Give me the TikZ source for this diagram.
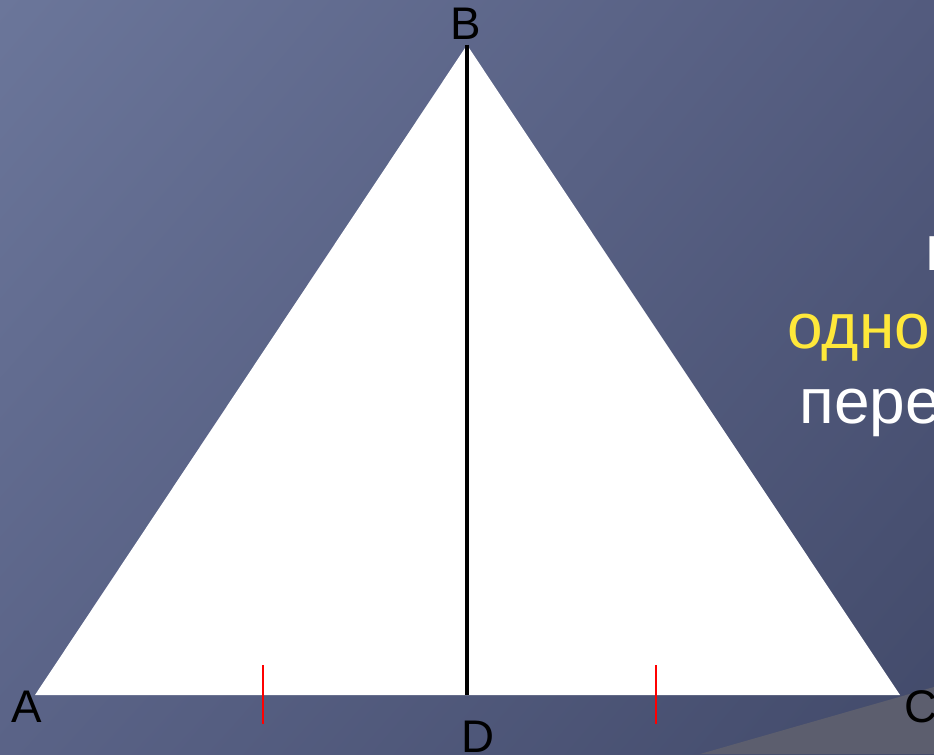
\documentclass[tikz,border=0pt]{standalone}
\usepackage{fontspec}
\setmainfont{Liberation Sans}
\usetikzlibrary{positioning, shadings}
\definecolor{bgtl}{HTML}{6B769A}
\definecolor{bgtr}{HTML}{535B7E}
\definecolor{bgbl}{HTML}{5A6387}
\definecolor{bgbr}{HTML}{424A6A}
\definecolor{wedgegray}{HTML}{5C5E6E}
\definecolor{titleyel}{HTML}{FFE83A}
\definecolor{tickred}{HTML}{FF0000}

\begin{document}
\begin{tikzpicture}[
    x=0.01cm, y=0.01cm,
    every node/.style={inner sep=0pt},
    vlabel/.style={font=\fontsize{13}{15}\selectfont, text=black, anchor=base},
    slidetext/.style={font=\fontsize{18.2}{22}\selectfont, anchor=base west},
    median/.style={line width=1.4pt, black},
    tickmark/.style={line width=0.6pt, tickred},
  ]

  % ============ Slide background ============
  \useasboundingbox (0,0) rectangle (934,754);
  \clip (0,0) rectangle (934,754);
  \shade[upper left=bgtl, upper right=bgtr, lower left=bgbl, lower right=bgbr]
    (0,0) rectangle (934,754);
  \fill[wedgegray] (700,0) -- (934,67) -- (934,0) -- cycle;

  % ============ Triangle ============
  \coordinate (A) at (35,59);
  \coordinate (B) at (467,709);
  \coordinate (C) at (900,59);
  \coordinate (D) at (467,59);
  \fill[white] (A) -- (B) -- (C) -- cycle;

  % median BD
  \draw[median] (B) -- (D);

  % equal halves AD = DC
  \coordinate (t1) at (263,89);
  \coordinate (t2) at (656,89);
  \draw[tickmark] (t1) -- ++(0,-59);
  \draw[tickmark] (t2) -- ++(0,-59);

  % ============ Vertex labels ============
  \node[vlabel] (lA) at (27,32)  {A};
  \node[vlabel] (lB) at (466,714) {B};
  \node[vlabel, anchor=base west] (lC) at (904,32) {C};
  \node[vlabel] (lD) at (478,2) {D};

  % ============ Slide text (cut at the edge) ============
  \node[slidetext, text=white] (line1) at (925,484) {н};
  \node[slidetext, text=titleyel] (line2) at (787,406) {одно};
  \node[slidetext, text=white] (line3) at (799,331) {пере};

\end{tikzpicture}
\end{document}
